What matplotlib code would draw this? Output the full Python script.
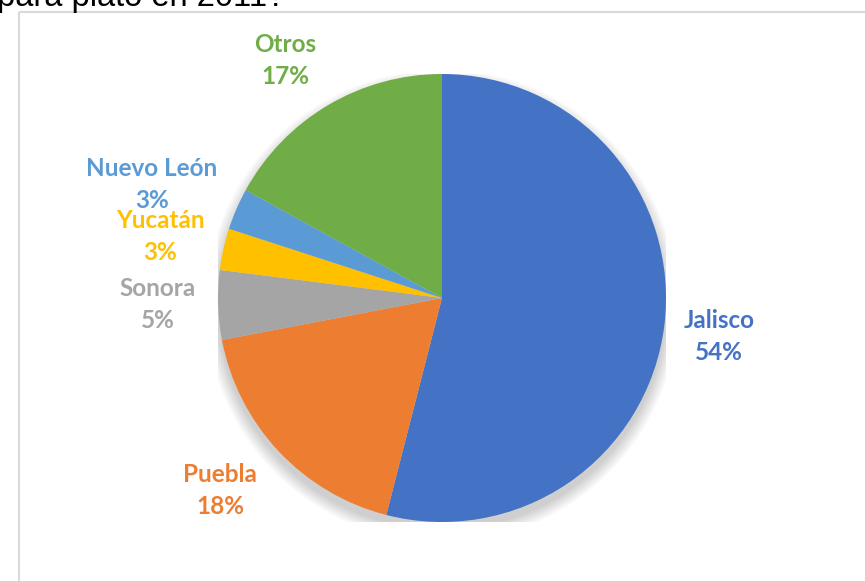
import matplotlib
matplotlib.use("Agg")
import matplotlib.pyplot as plt
from matplotlib.patches import Circle

categories = ["Jalisco", "Puebla", "Sonora", "Yucatán", "Nuevo León", "Otros"]
values = [54, 18, 5, 3, 3, 17]
colors = ["#4472C4", "#ED7D31", "#A5A5A5", "#FFC000", "#5B9BD5", "#70AD47"]
# label centres in pixels (x, y from top) for the name line
label_pos = [(719, 320), (220, 474), (158, 289), (160, 220), (152, 169), (285, 45)]
title_text = "para plato en 2011?"

W, H = 865, 581
fig = plt.figure(figsize=(W / 100, H / 100), dpi=100)

# background frame
bg = fig.add_axes([0, 0, 1, 1])
bg.set_xlim(0, W)
bg.set_ylim(H, 0)
bg.axis("off")
bg.plot([18.5, 18.5], [11.5, H + 5], color="#D9D9D9", lw=1.5, solid_capstyle="butt")
bg.plot([18.5, W + 5], [11.5, 11.5], color="#D9D9D9", lw=1.5, solid_capstyle="butt")
bg.text(-3, 6, title_text, fontsize=23.5, family="Liberation Sans", color="black",
        va="baseline", ha="left", clip_on=False)

cx, cy, r = 442, 298, 224
ax = fig.add_axes([(cx - r) / W, (H - cy - r) / H, 2 * r / W, 2 * r / H])
ax.set_xlim(-1, 1)
ax.set_ylim(-1, 1)
ax.set_aspect("equal")
ax.axis("off")

# soft shadow
for i in range(12):
    ax.add_patch(Circle((0.0, -0.035), 1.0 + 0.005 * i, color="black",
                        alpha=0.016, lw=0, zorder=0))

ax.pie(values, colors=colors, startangle=90, counterclock=False, radius=1,
       wedgeprops=dict(linewidth=0), frame=False)
ax.set_xlim(-1, 1)
ax.set_ylim(-1, 1)

for cat, val, col, (x, y) in zip(categories, values, colors, label_pos):
    bg.text(x, y, cat, color=col, fontsize=17.5, family="Lato", fontweight="bold",
            ha="center", va="center")
    bg.text(x, y + 32, f"{val}%", color=col, fontsize=17.5, family="Lato",
            fontweight="bold", ha="center", va="center")

fig.savefig("out.png", dpi=100)
